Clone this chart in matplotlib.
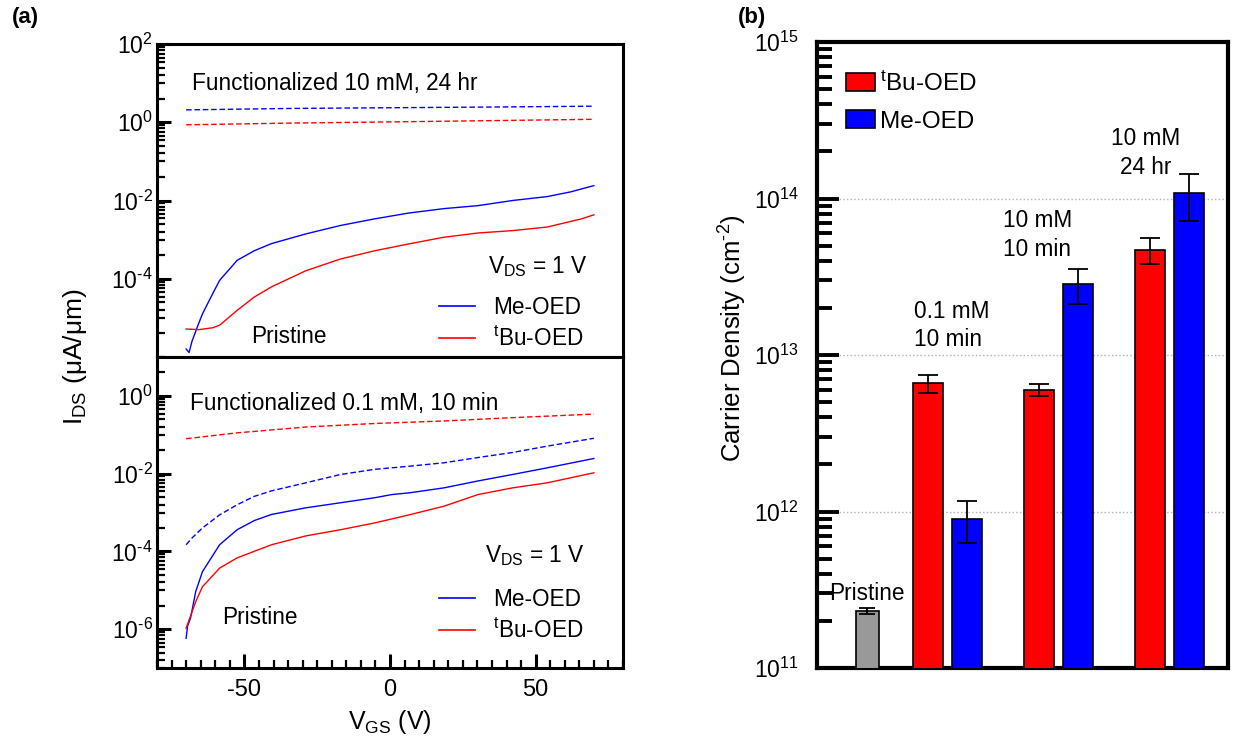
import matplotlib
matplotlib.use("Agg")
import matplotlib.pyplot as plt
import numpy as np
from matplotlib.ticker import FixedLocator, FuncFormatter, LogLocator, NullFormatter, MultipleLocator
from matplotlib.lines import Line2D
from matplotlib.patches import Patch

plt.rcParams['font.family'] = ['Liberation Sans', 'DejaVu Sans']
plt.rcParams['mathtext.fontset'] = 'custom'
plt.rcParams['mathtext.rm'] = 'Liberation Sans'
plt.rcParams['mathtext.it'] = 'Liberation Sans:italic'
plt.rcParams['mathtext.bf'] = 'Liberation Sans:bold'
plt.rcParams['mathtext.default'] = 'regular'
plt.rcParams['axes.unicode_minus'] = False

# ---- panel (a) top: functionalized 10 mM, 24 hr ----
v_me_pr_top = [-70, -69, -68, -66, -64.4, -61, -58.5, -55, -52.5, -46.6, -40.7, -28.9, -17, -5.2,
               6.6, 18.5, 30.3, 42.1, 54, 62, 70]
i_me_pr_top = [1.6e-6, 1.3e-6, 2.5e-6, 6.3e-6, 1.26e-5, 4.0e-5, 9.1e-5, 1.8e-4, 2.95e-4, 5.2e-4,
               7.9e-4, 1.4e-3, 2.3e-3, 3.4e-3, 4.8e-3, 6.2e-3, 7.4e-3, 1.0e-2, 1.26e-2, 1.66e-2, 2.4e-2]
v_tbu_pr_top = [-70, -65.6, -60.8, -58.5, -52.5, -46.6, -40.7, -28.9, -17, -5.2, 6.6, 18.5, 30.3,
                42.1, 54, 65.8, 70]
i_tbu_pr_top = [5.2e-6, 5.0e-6, 5.6e-6, 6.5e-6, 1.55e-5, 3.4e-5, 6.2e-5, 1.6e-4, 3.2e-4, 5.2e-4,
                7.8e-4, 1.15e-3, 1.48e-3, 1.7e-3, 2.1e-3, 3.4e-3, 4.3e-3]
v_fn_top = [-70, -35, 0, 35, 70]
i_me_fn_top = [2.07, 2.25, 2.35, 2.45, 2.57]
i_tbu_fn_top = [0.86, 0.95, 1.02, 1.1, 1.19]

# ---- panel (a) bottom: functionalized 0.1 mM, 10 min ----
v_tbu_fn_bot = [-70, -52.5, -28.9, -5.2, 18.5, 42.1, 70]
i_tbu_fn_bot = [0.079, 0.112, 0.158, 0.195, 0.226, 0.275, 0.34]
v_me_fn_bot = [-70, -68, -64.4, -58.5, -52.5, -46.6, -40.7, -28.9, -17, -5.2, 6.6, 18.5, 30.3,
               42.1, 54, 70]
i_me_fn_bot = [1.48e-4, 2.2e-4, 4.0e-4, 8.7e-4, 1.58e-3, 2.6e-3, 3.6e-3, 5.8e-3, 9.5e-3, 1.29e-2,
               1.55e-2, 1.9e-2, 2.6e-2, 3.5e-2, 5.1e-2, 8.1e-2]
v_me_pr_bot = [-70, -69.5, -68.5, -66.7, -64.4, -58.5, -52.5, -46.6, -40.7, -28.9, -17, -5.2, 0.7,
               6.6, 18.5, 30.3, 42.1, 54, 70]
i_me_pr_bot = [5.8e-7, 1.2e-6, 1.9e-6, 9.3e-6, 3.0e-5, 1.48e-4, 3.6e-4, 6.2e-4, 8.9e-4, 1.32e-3,
               1.78e-3, 2.4e-3, 2.9e-3, 3.2e-3, 4.3e-3, 6.5e-3, 9.5e-3, 1.41e-2, 2.45e-2]
v_tbu_pr_bot = [-70, -66.7, -64.4, -58.5, -52.5, -40.7, -28.9, -17, -5.2, 6.6, 18.5, 30.3, 42.1,
                54, 70]
i_tbu_pr_bot = [1.05e-6, 5.1e-6, 1.23e-5, 3.7e-5, 6.8e-5, 1.48e-4, 2.5e-4, 3.6e-4, 5.4e-4, 8.7e-4,
                1.45e-3, 2.9e-3, 4.3e-3, 5.8e-3, 1.05e-2]

# ---- panel (b): carrier density ----
pristine_val = 2.3e11
pristine_err = 0.1e11
groups = ["0.1 mM\n10 min", "10 mM\n10 min", "10 mM\n24 hr"]
tbu_vals = [6.6e12, 6.0e12, 4.7e13]
tbu_errs = [0.9e12, 0.55e12, 0.9e13]
me_vals = [9.0e11, 2.85e13, 1.08e14]
me_errs = [0.27e12, 0.72e13, 0.36e14]

RED = "#ff0000"
BLUE = "#0000ff"
W, H = 1236, 742

fig = plt.figure(figsize=(W / 100, H / 100), dpi=100)
ax_top = fig.add_axes([157 / W, 1 - 357 / H, 466 / W, 313 / H])
ax_bot = fig.add_axes([157 / W, 1 - 668 / H, 466 / W, 311 / H])
axb = fig.add_axes([817 / W, 1 - 668 / H, 411 / W, 626 / H])


def pow_label(v, pos):
    e = int(round(np.log10(v)))
    if e < 0:
        return r"$10^{\text{-%d}}$" % (-e)
    return r"$10^{%d}$" % e


lw = 1.0
dash = (0, (4, 2))
ax_top.plot(v_fn_top, i_me_fn_top, color=BLUE, lw=lw, ls=dash)
ax_top.plot(v_fn_top, i_tbu_fn_top, color=RED, lw=lw, ls=dash)
ax_top.plot(v_me_pr_top, i_me_pr_top, color=BLUE, lw=lw)
ax_top.plot(v_tbu_pr_top, i_tbu_pr_top, color=RED, lw=lw)

ax_bot.plot(v_tbu_fn_bot, i_tbu_fn_bot, color=RED, lw=lw, ls=dash)
ax_bot.plot(v_me_fn_bot, i_me_fn_bot, color=BLUE, lw=lw, ls=dash)
ax_bot.plot(v_me_pr_bot, i_me_pr_bot, color=BLUE, lw=lw)
ax_bot.plot(v_tbu_pr_bot, i_tbu_pr_bot, color=RED, lw=lw)

mult = [4, 10, 16, 25, 35, 45, 57, 70, 85]
minors = [m * 10.0 ** k for k in range(-8, 2, 2) for m in mult]

for ax, ylim, majors in [(ax_top, (1e-6, 1e2), [1e2, 1e0, 1e-2, 1e-4]),
                         (ax_bot, (1e-7, 1e1), [1e0, 1e-2, 1e-4, 1e-6])]:
    ax.set_yscale("log")
    ax.set_ylim(*ylim)
    ax.set_xlim(-80, 80)
    ax.yaxis.set_major_locator(FixedLocator(majors))
    ax.yaxis.set_major_formatter(FuncFormatter(pow_label))
    ax.yaxis.set_minor_locator(FixedLocator(minors))
    ax.yaxis.set_minor_formatter(NullFormatter())
    ax.tick_params(axis="y", which="major", direction="in", length=10, width=2.2,
                   labelsize=16.5, pad=3)
    ax.tick_params(axis="y", which="minor", direction="in", length=6, width=1.6)
    for s in ax.spines.values():
        s.set_linewidth(2.2)

ax_top.tick_params(axis="x", which="both", length=0, labelbottom=False)
ax_bot.xaxis.set_major_locator(MultipleLocator(50))
ax_bot.xaxis.set_minor_locator(MultipleLocator(5))
ax_bot.tick_params(axis="x", which="major", direction="in", length=10, width=2.2,
                   labelsize=17, pad=8)
ax_bot.tick_params(axis="x", which="minor", direction="in", length=6, width=1.6)

ax_top.text(0.075, 0.852, "Functionalized 10 mM, 24 hr", transform=ax_top.transAxes,
            fontsize=16.3, va="baseline")
ax_bot.text(0.071, 0.830, "Functionalized 0.1 mM, 10 min", transform=ax_bot.transAxes,
            fontsize=16.3, va="baseline")
ax_top.text(0.925, 0.268, "V$_{DS}$ = 1 V", transform=ax_top.transAxes,
            fontsize=16.3, ha="right", va="baseline")
ax_bot.text(0.917, 0.342, "V$_{DS}$ = 1 V", transform=ax_bot.transAxes,
            fontsize=16.3, ha="right", va="baseline")
ax_top.text(0.202, 0.045, "Pristine", transform=ax_top.transAxes, fontsize=16.3, va="baseline")
ax_bot.text(0.139, 0.14, "Pristine", transform=ax_bot.transAxes, fontsize=16.3, va="baseline")

tbu_label = r"$^{\mathrm{t}}$Bu-OED"
handles = [Line2D([], [], color=BLUE, lw=1.2), Line2D([], [], color=RED, lw=1.2)]
for ax, anchor in [(ax_top, (0.605, 0.196)), (ax_bot, (0.605, 0.258))]:
    ax.legend(handles, ["Me-OED", tbu_label], loc="upper left", bbox_to_anchor=anchor,
              frameon=False, fontsize=16.3, handlelength=1.6, handletextpad=0.8,
              labelspacing=0.35, borderpad=0, borderaxespad=0)

fig.text(75 / W, 1 - 357 / H, "I$_{DS}$ (\u03bcA/\u03bcm)", rotation=90, fontsize=19,
         ha="center", va="center")
fig.text(390 / W, 1 - 722 / H, "V$_{GS}$ (V)", fontsize=18, ha="center", va="center")

# ---- panel (b) ----
pristine_x = 0.28
group_x = np.arange(1, len(groups) + 1)
off = 0.177
bw = 0.267
ekw = dict(elinewidth=1.3, capthick=1.3, ecolor="black")
axb.bar(pristine_x, pristine_val, width=0.207, color="#999999", edgecolor="black", lw=1.2,
        yerr=pristine_err, capsize=6, error_kw=ekw, zorder=3)
axb.bar(group_x - off, tbu_vals, width=bw, color=RED, edgecolor="black", lw=1.2,
        yerr=tbu_errs, capsize=7, error_kw=ekw, zorder=3)
axb.bar(group_x + off, me_vals, width=bw, color=BLUE, edgecolor="black", lw=1.2,
        yerr=me_errs, capsize=7, error_kw=ekw, zorder=3)

axb.set_yscale("log")
axb.set_ylim(1e11, 1e15)
axb.set_xlim(-0.173, 3.526)
axb.set_xticks([])
axb.yaxis.set_major_locator(LogLocator(base=10))
axb.yaxis.set_major_formatter(FuncFormatter(pow_label))
axb.yaxis.set_minor_locator(LogLocator(base=10, subs=np.arange(2, 10)))
axb.yaxis.set_minor_formatter(NullFormatter())
axb.tick_params(axis="y", which="major", direction="in", length=16, width=2.8,
                labelsize=16.5, pad=13)
axb.tick_params(axis="y", which="minor", direction="in", length=11, width=2.8)
axb.yaxis.grid(True, which="major", linestyle=":", color="#b0b0b0", lw=1.0)
axb.set_axisbelow(True)
for s in axb.spines.values():
    s.set_linewidth(3)
axb.set_ylabel("Carrier Density (cm$^{\\text{-2}}$)", fontsize=18.5)
axb.yaxis.set_label_coords(-0.165, 0.527)

axb.text(pristine_x, 3.0e11, "Pristine", fontsize=16.3, ha="center", va="center")
axb.text(0.70, 1.55e13, groups[0], fontsize=16.3, ha="left", va="center",
         multialignment="left", linespacing=1.3)
axb.text(1.497, 5.85e13, groups[1], fontsize=16.3, ha="left", va="center",
         multialignment="left", linespacing=1.3)
axb.text(2.787, 1.95e14, groups[2], fontsize=16.3, ha="center", va="center",
         multialignment="center", linespacing=1.3)

patches = [Patch(facecolor=RED, edgecolor="black", lw=1.2),
           Patch(facecolor=BLUE, edgecolor="black", lw=1.2)]
axb.legend(patches, [tbu_label, "Me-OED"], loc="upper left", bbox_to_anchor=(0.07, 0.953),
           frameon=False, fontsize=17.5, handlelength=1.2, handleheight=0.75,
           handletextpad=0.2, labelspacing=0.6, borderpad=0, borderaxespad=0)

fig.text(12 / W, 1 - 18 / H, "(a)", fontsize=16, fontweight="bold", va="center")
fig.text(738 / W, 1 - 18 / H, "(b)", fontsize=16, fontweight="bold", va="center")

fig.savefig("out.png", dpi=100)
